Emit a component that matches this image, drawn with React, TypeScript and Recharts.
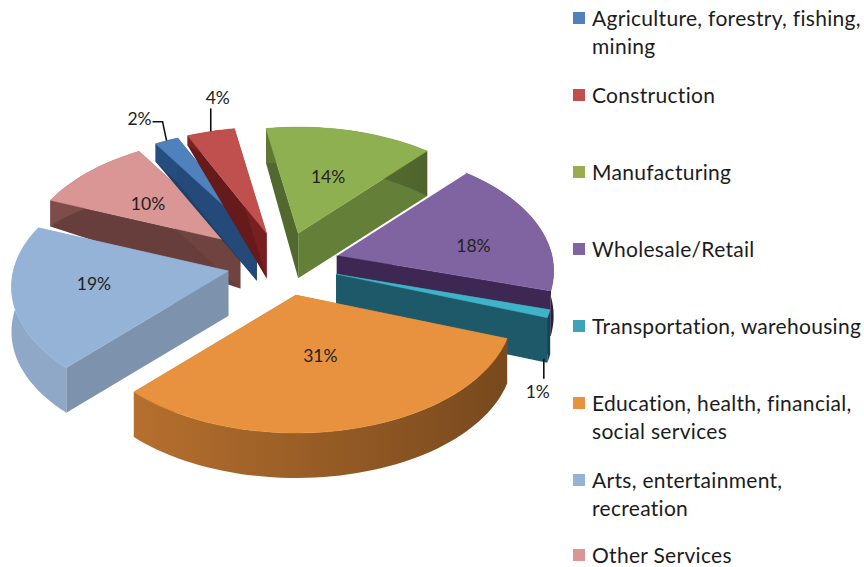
import React from "react";
import { PieChart, Pie, Legend } from "recharts";

const categories = [
  "Agriculture, forestry, fishing, mining",
  "Construction",
  "Manufacturing",
  "Wholesale/Retail",
  "Transportation, warehousing",
  "Education, health, financial, social services",
  "Arts, entertainment, recreation",
  "Other Services",
];
const shares = [2, 4, 14, 18, 1, 31, 19, 10];

const topColors = ["#4f81bd", "#c0504d", "#8fb050", "#8064a2", "#3fb4c8", "#e8923f", "#95b3d7", "#d99694"];
const sideColors = ["#234a78", "#7a1f20", "#647f38", "#3f2a58", "#1f5f70", "#a8672a", "#7d92ad", "#6e4340"];
const legendColors = ["#4f81bd", "#c0504d", "#9bab4f", "#8064a2", "#3fa3b8", "#e8923f", "#95b3d7", "#d99694"];

// drawn back to front, "Other Services" has to sit under its neighbours
const drawOrder = [7, 0, 1, 2, 3, 4, 5, 6];
const pieData = drawOrder.map((i) => ({ name: categories[i], value: shares[i] }));

// how far along the radius each percentage sits, plus a small hand nudge
const labelRadius = [1.2, 1.2, 0.52, 0.66, 1.0, 0.5, 0.65, 0.57];
const labelNudge = [[0, 0], [0, 0], [3, -3], [5, 12], [0, 0], [-4, -6], [6, -5], [-6, 1]];

// the far end of a cut face looks thinner than the part next to the centre
const startFaceDepth = [0.4, 0.22, 0.77, 1, 1, 1, 1, 0.58];

const CX = 283;
const CY = 264;
const RADIUS = 215;
const TILT = 0.558;
const PERSPECTIVE = 0.13;
const EXPLODE = 56;
const EXPLODE_TILT = 0.57;
const DEPTH = 45;
const FONT = "Lato, 'Open Sans', sans-serif";

const rad = (deg: number) => (deg * Math.PI) / 180;

// recharts angle -> point on the tilted disc, relative to the wedge apex
function project(angle: number, r: number) {
  const t = rad(90 - angle);
  const front = -Math.cos(t);
  const s = 1 / (1 - PERSPECTIVE * front);
  return { x: r * Math.sin(t) * s, y: r * TILT * front * s };
}

function apexOf(cx: number, cy: number, midAngle: number) {
  const t = rad(90 - midAngle);
  return { x: cx + EXPLODE * Math.sin(t), y: cy - EXPLODE * EXPLODE_TILT * Math.cos(t) };
}

function shade(hex: string, f: number) {
  const n = parseInt(hex.slice(1), 16);
  const c = [n >> 16, (n >> 8) & 255, n & 255].map((v) => Math.min(255, Math.round(v * f)));
  return `rgb(${c[0]},${c[1]},${c[2]})`;
}

const toPath = (pts: { x: number; y: number }[]) =>
  pts.map((p, i) => `${i ? "L" : "M"}${p.x.toFixed(1)} ${p.y.toFixed(1)}`).join(" ") + " Z";

function Wedge(props: any) {
  const { cx, cy, startAngle, endAngle, outerRadius, name } = props;
  const idx = categories.indexOf(name);
  const mid = (startAngle + endAngle) / 2;
  const apex = apexOf(cx, cy, mid);
  const steps = Math.max(2, Math.ceil(Math.abs(startAngle - endAngle) / 2));
  const rim = [];
  for (let i = 0; i <= steps; i++) {
    const p = project(startAngle + ((endAngle - startAngle) * i) / steps, outerRadius);
    rim.push({ x: apex.x + p.x, y: apex.y + p.y });
  }
  const down = (p: { x: number; y: number }, f = 1) => ({ x: p.x, y: p.y + DEPTH * f });
  const tip = startFaceDepth[idx];
  const rimBottom = rim.map((p, i) => down(p, tip + ((1 - tip) * i) / steps));
  const first = rim[0];
  const last = rim[rim.length - 1];
  const side = sideColors[idx];
  // faces turned to the left are a bit darker
  const startNx = Math.min(0, -Math.cos(rad(90 - startAngle)));
  const endNx = Math.min(0, Math.cos(rad(90 - endAngle)));
  const gradId = `rim-${idx}`;
  return (
    <g>
      <defs>
        <linearGradient
          id={gradId}
          gradientUnits="userSpaceOnUse"
          x1={cx - outerRadius}
          y1="0"
          x2={cx + outerRadius}
          y2="0"
        >
          <stop offset="0%" stopColor={shade(side, 1.15)} />
          <stop offset="100%" stopColor={shade(side, 0.72)} />
        </linearGradient>
      </defs>
      <path d={toPath([apex, first, down(first, tip), down(apex)])} fill={shade(side, 1 + 0.18 * startNx)} />
      <path d={toPath([apex, last, down(last), down(apex)])} fill={shade(side, 1 + 0.18 * endNx)} />
      <path d={toPath([...rim, ...rimBottom.reverse()])} fill={`url(#${gradId})`} />
      <path d={toPath([apex, ...rim])} fill={topColors[idx]} stroke={topColors[idx]} strokeWidth={0.5} />
      {/* thin light seam where wholesale meets the manufacturing wall */}
      {idx === 3 && (
        <path d={`M${apex.x} ${apex.y} L${first.x} ${first.y}`} stroke="#fff" strokeWidth={1.5} fill="none" />
      )}
    </g>
  );
}

function SliceLabel(props: any) {
  const { cx, cy, midAngle, outerRadius, name, value } = props;
  const idx = categories.indexOf(name);
  const apex = apexOf(cx, cy, midAngle);
  const onDisc = project(midAngle, outerRadius * labelRadius[idx]);
  let x = apex.x + onDisc.x + labelNudge[idx][0];
  let y = apex.y + onDisc.y + labelNudge[idx][1];
  let leader: string | null = null;
  const edge = project(midAngle, outerRadius);
  const ex = apex.x + edge.x;
  const ey = apex.y + edge.y;
  if (name === categories[0]) {
    leader = `M${ex} ${ey} L${ex - 4} ${ey - 19} L${ex - 14} ${ey - 19}`;
    x = ex - 27;
    y = ey - 22;
  } else if (name === categories[1]) {
    leader = `M${ex} ${ey} L${ex} ${ey - 23}`;
    x = ex + 7;
    y = ey - 34;
  } else if (name === categories[4]) {
    leader = `M${ex - 5} ${ey + DEPTH} L${ex - 5} ${ey + DEPTH + 20}`;
    x = ex - 11;
    y = ey + DEPTH + 33;
  }
  return (
    <g>
      {leader && <path d={leader} fill="none" stroke="#111" strokeWidth={1.6} />}
      <text
        x={x}
        y={y}
        textAnchor="middle"
        dominantBaseline="central"
        fontFamily={FONT}
        fontSize={17.5}
        fill="#222"
      >
        {value}%
      </text>
    </g>
  );
}

function LegendBox() {
  return (
    <div style={{ fontFamily: FONT, fontSize: 21, letterSpacing: 0.3, lineHeight: "28px", color: "#1c1c1c" }}>
      {categories.map((name, i) => {
        const isLast = i === categories.length - 1;
        return (
          <div
            key={name}
            style={{
              height: isLast ? 20 : 77,
              position: "relative",
              paddingLeft: 19,
              lineHeight: isLast ? "20px" : undefined,
              paddingTop: isLast ? 2 : 0,
            }}
          >
            <span
              style={{
                position: "absolute",
                left: 0,
                top: isLast ? 6 : 8,
                width: 12,
                height: 12,
                background: legendColors[i],
              }}
            />
            {name}
          </div>
        );
      })}
    </div>
  );
}

export default function App() {
  return (
    <div style={{ position: "absolute", left: 0, top: 0, width: 864, height: 567, overflow: "hidden", background: "#fff" }}>
      <PieChart width={864} height={567} margin={{ top: 0, right: 0, bottom: 0, left: 0 }}>
        <Pie
          data={pieData}
          dataKey="value"
          nameKey="name"
          cx={CX}
          cy={CY}
          innerRadius={0}
          outerRadius={RADIUS}
          startAngle={157.9}
          endAngle={-202.1}
          stroke="none"
          shape={Wedge}
          label={SliceLabel}
          labelLine={false}
          isAnimationActive={false}
        />
        <Legend
          content={LegendBox}
          wrapperStyle={{ position: "absolute", left: 573, top: 4, width: 291, bottom: "auto", right: "auto" }}
        />
      </PieChart>
    </div>
  );
}
